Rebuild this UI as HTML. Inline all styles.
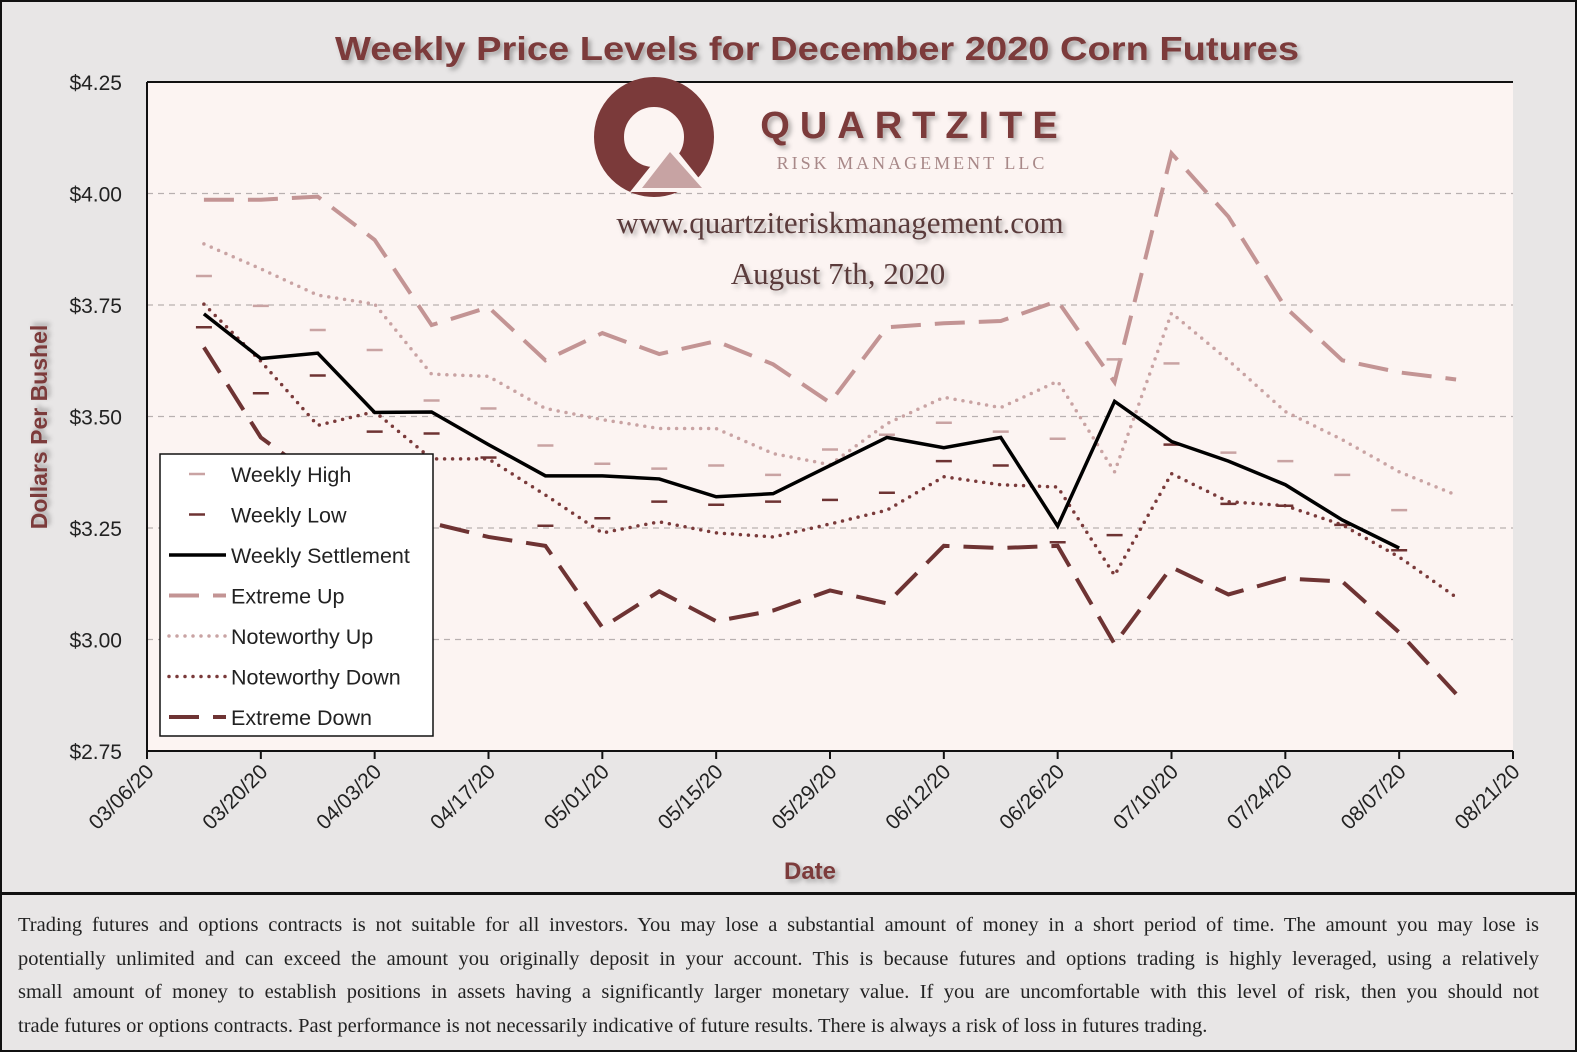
<!DOCTYPE html>
<html><head><meta charset="utf-8"><style>
body{margin:0;background:#e8e6e6;}
#wrap{position:relative;width:1577px;height:1052px;background:#e8e6e6;overflow:hidden;border:2px solid #111;box-sizing:border-box;}
svg text{font-family:"Liberation Sans",sans-serif;}
#disc{position:absolute;left:0;top:890px;width:1577px;height:160px;border-top:3px solid #111;box-sizing:border-box;padding:14px 40px 14px 16px;font-family:"Liberation Serif",serif;font-size:20.5px;line-height:33.5px;color:#222;}
#disc .l{display:block;text-align:justify;text-align-last:justify;white-space:nowrap;}
#disc .last{display:block;text-align:left;white-space:nowrap;}
</style></head><body>
<div id="wrap">
<svg id="chart" width="1577" height="890">
<defs><filter id="sh" x="-10%" y="-30%" width="120%" height="160%"><feDropShadow dx="3" dy="3" stdDeviation="2.5" flood-color="#000" flood-opacity="0.3"/></filter></defs>
<rect x="145" y="80" width="1366" height="669" fill="#fcf4f2"/>
<line x1="145" y1="80" x2="1511" y2="80" stroke="#111" stroke-width="2"/>
<text x="333" y="58" textLength="964" lengthAdjust="spacingAndGlyphs" font-size="33" font-weight="bold" fill="#7b3a3a" filter="url(#sh)">Weekly Price Levels for December 2020 Corn Futures</text>
<g id="grid"></g>
<g>
<circle cx="652" cy="135" r="45" fill="none" stroke="#7b3a3a" stroke-width="30"/>
<polygon points="628,190 668,140 708,190" fill="#fcf4f2"/>
<polygon points="640,186 668,150 700,186" fill="#c7a3a3"/>
<text x="912" y="136" text-anchor="middle" font-size="38" font-weight="bold" letter-spacing="10" fill="#7b3a3a" filter="url(#sh)">QUARTZITE</text>
<text x="910" y="167" text-anchor="middle" font-size="18" letter-spacing="3" fill="#a88888" style="font-family:'Liberation Serif',serif">RISK MANAGEMENT LLC</text>
<text x="838" y="231" text-anchor="middle" font-size="31" fill="#5a3a3a" style="font-family:'Liberation Serif',serif" filter="url(#sh)">www.quartziteriskmanagement.com</text>
<text x="836" y="282" text-anchor="middle" font-size="31" fill="#5a3a3a" style="font-family:'Liberation Serif',serif" filter="url(#sh)">August 7th, 2020</text>
</g>
<g id="series"></g>
<g id="axes"></g>
<text transform="translate(45,425) rotate(-90)" text-anchor="middle" font-size="23" font-weight="bold" fill="#7b3a3a" filter="url(#sh)">Dollars Per Bushel</text>
<text x="808" y="877" text-anchor="middle" font-size="24" font-weight="bold" fill="#7b3a3a" filter="url(#sh)">Date</text>
<g id="legend"></g>
</svg>
<div id="disc"><span class="l">Trading futures and options contracts is not suitable for all investors. You may lose a substantial amount of money in a short period of time. The amount you may lose is</span><span class="l">potentially unlimited and can exceed the amount you originally deposit in your account. This is because futures and options trading is highly leveraged, using a relatively</span><span class="l">small amount of money to establish positions in assets having a significantly larger monetary value. If you are uncomfortable with this level of risk, then you should not</span><span class="last">trade futures or options contracts. Past performance is not necessarily indicative of future results. There is always a risk of loss in futures trading.</span></div>
</div>
<script>
const tickLabels=["03/06/20","03/20/20","04/03/20","04/17/20","05/01/20","05/15/20","05/29/20","06/12/20","06/26/20","07/10/20","07/24/20","08/07/20","08/21/20"];
const yTicks=[2.75,3.00,3.25,3.50,3.75,4.00,4.25];
const settle=[3.73,3.63,3.642,3.509,3.51,3.437,3.367,3.367,3.36,3.32,3.327,3.39,3.453,3.43,3.453,3.254,3.534,3.444,3.40,3.347,3.268,3.205];
const wHigh=[3.815,3.748,3.694,3.649,3.536,3.518,3.435,3.394,3.383,3.39,3.369,3.426,3.459,3.486,3.466,3.45,3.628,3.619,3.419,3.40,3.369,3.29];
const wLow=[3.70,3.552,3.592,3.466,3.462,3.408,3.255,3.272,3.309,3.302,3.309,3.313,3.329,3.40,3.39,3.218,3.234,3.437,3.304,3.30,3.257,3.20];
const extUp=[3.986,3.986,3.993,3.896,3.705,3.745,3.626,3.687,3.64,3.669,3.617,3.531,3.70,3.709,3.714,3.759,3.577,4.09,3.948,3.745,3.626,3.599,3.583];
const notUp=[3.887,3.831,3.772,3.752,3.595,3.59,3.518,3.493,3.473,3.473,3.417,3.392,3.484,3.543,3.52,3.579,3.376,3.732,3.626,3.511,3.448,3.376,3.324];
const notDown=[3.752,3.624,3.48,3.511,3.405,3.405,3.324,3.239,3.264,3.239,3.23,3.259,3.29,3.365,3.347,3.342,3.144,3.372,3.309,3.30,3.257,3.185,3.095];
const extDown=[3.655,3.453,3.36,3.30,3.261,3.23,3.21,3.027,3.108,3.041,3.065,3.11,3.081,3.21,3.205,3.21,2.99,3.162,3.101,3.137,3.13,3.016,2.878];
const NS="http://www.w3.org/2000/svg";
const X0=145,X1=1511,Y0=749,Y1=80;
const xW=i=>X0+(X1-X0)/24*(i+1);
const yV=v=>Y0-(v-2.75)/1.5*(Y0-Y1);
function mk(t,a,p){const e=document.createElementNS(NS,t);for(const k in a)e.setAttribute(k,a[k]);p.appendChild(e);return e;}
const grid=document.getElementById('grid'),axes=document.getElementById('axes'),ser=document.getElementById('series'),leg=document.getElementById('legend');
yTicks.forEach(v=>{
 if(v>2.75&&v<4.25){const l=mk('line',{x1:X0,x2:X1,y1:yV(v),y2:yV(v),stroke:'#b8b0b0','stroke-width':1.2,'stroke-dasharray':'6,5'},grid);
 
 }
 const t=mk('text',{x:120,y:yV(v)+8,'text-anchor':'end','font-size':21,fill:'#222'},axes);t.textContent='$'+v.toFixed(2);
 
 
});
mk('line',{x1:X0,x2:X0,y1:Y1,y2:Y0,stroke:'#111','stroke-width':2},axes);
mk('line',{x1:X0,x2:X1,y1:Y0,y2:Y0,stroke:'#111','stroke-width':2},axes);
tickLabels.forEach((s,i)=>{const x=X0+(X1-X0)/12*i;
 mk('line',{x1:x,x2:x,y1:Y0,y2:Y0+8,stroke:'#111','stroke-width':2},axes);
 const t=mk('text',{transform:`translate(${x+8},${Y0+22}) rotate(-45)`,'text-anchor':'end','font-size':21,fill:'#222'},axes);t.textContent=s;
 
 
});
function line(arr,st,w,da,name){const p=mk('polyline',{points:arr.map((v,i)=>xW(i)+','+yV(v)).join(' '),fill:'none',stroke:st,'stroke-width':w,'stroke-dasharray':da,'stroke-linecap':da&&da.startsWith('0')?'round':'butt'},ser);
 
 }
line(extUp,'#c39494',4,'30,14','extreme-up-line');
line(notUp,'#c9a3a3',3.5,'0,8','noteworthy-up-line');
line(notDown,'#7a3a3a',3.5,'0,8','noteworthy-down-line');
line(extDown,'#6e3333',4,'30,14','extreme-down-line');
function marks(arr,st,name){arr.forEach((v,i)=>{const m=mk('line',{x1:xW(i)-8,x2:xW(i)+8,y1:yV(v),y2:yV(v),stroke:st,'stroke-width':2.5},ser);
 
 });}
marks(wHigh,'#c9a3a3','weekly-high-marker');
marks(wLow,'#6e3333','weekly-low-marker');
line(settle,'#000',3.5,'','weekly-settlement-line');
const lb=mk('rect',{x:158,y:452,width:273,height:282,fill:'#fff',stroke:'#111','stroke-width':1.5},leg);


const items=[["Weekly High",'#c9a3a3',2.5,'','short'],["Weekly Low",'#6e3333',2.5,'','short'],["Weekly Settlement",'#000',3.5,'','long'],["Extreme Up",'#c39494',4,'30,14','long'],["Noteworthy Up",'#c9a3a3',3.5,'0,8','long'],["Noteworthy Down",'#7a3a3a',3.5,'0,8','long'],["Extreme Down",'#6e3333',4,'30,14','long']];
items.forEach((it,i)=>{const y=472+i*40.5;
 const g=mk('g',{},leg);
 
 
 if(it[4]=='short')mk('line',{x1:187,x2:203,y1:y,y2:y,stroke:it[1],'stroke-width':it[2]},g);
 else mk('line',{x1:167,x2:224,y1:y,y2:y,stroke:it[1],'stroke-width':it[2],'stroke-dasharray':it[3],'stroke-linecap':it[3].startsWith('0')?'round':'butt'},g);
 const t=mk('text',{x:229,y:y+8,'font-size':21.5,fill:'#222'},g);t.textContent=it[0];});
</script>
</body></html>
